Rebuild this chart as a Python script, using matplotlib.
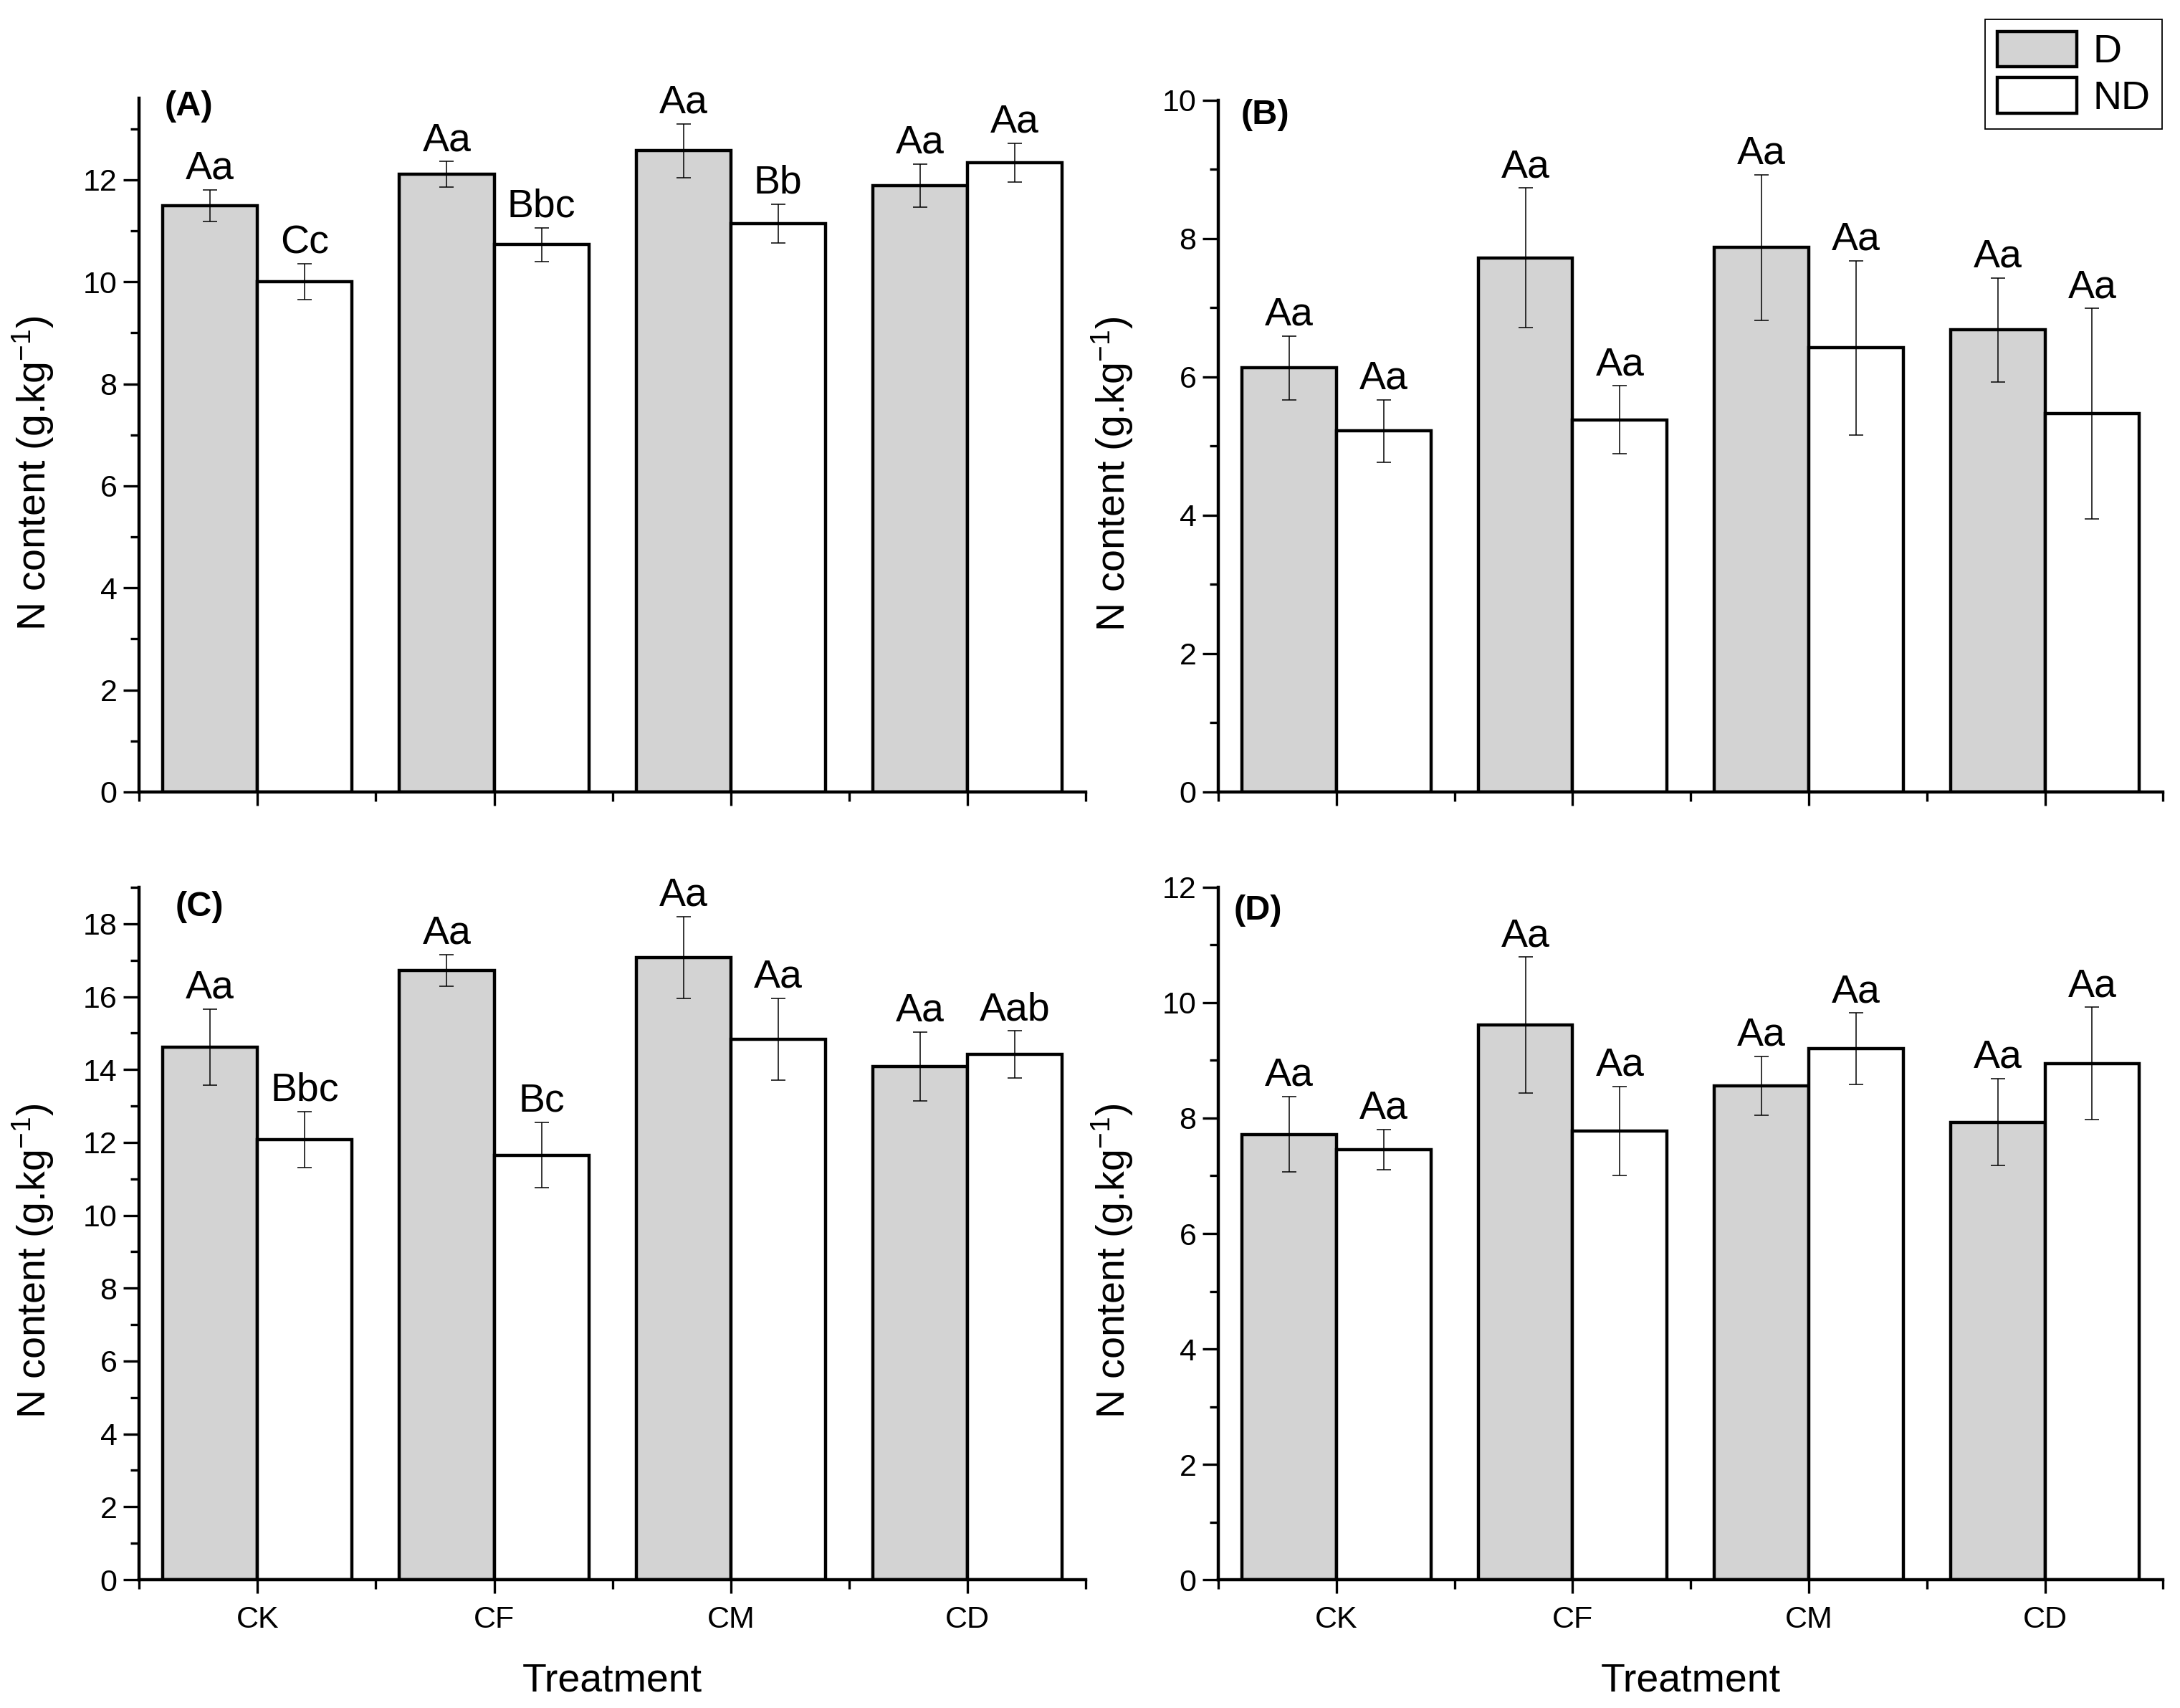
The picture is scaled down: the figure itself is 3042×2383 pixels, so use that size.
import numpy as np
from matplotlib import pyplot as plt

plt.rcParams['font.family'] = ['Liberation Sans', 'DejaVu Sans']
plt.rcParams['mathtext.fontset'] = 'custom'
plt.rcParams['mathtext.rm'] = 'Liberation Sans'
plt.rcParams['mathtext.it'] = 'Liberation Sans:italic'

'''
    DATA
'''
treatments = ['CK', 'CF', 'CM', 'CD']

# panel A
a_d = [11.49, 12.11, 12.57, 11.89]
a_d_err = [0.31, 0.25, 0.53, 0.42]
a_nd = [10.00, 10.73, 11.14, 12.34]
a_nd_err = [0.35, 0.33, 0.38, 0.38]
a_d_lab = ['Aa', 'Aa', 'Aa', 'Aa']
a_nd_lab = ['Cc', 'Bbc', 'Bb', 'Aa']

# panel B
b_d = [6.13, 7.72, 7.87, 6.68]
b_d_err = [0.46, 1.01, 1.05, 0.75]
b_nd = [5.22, 5.38, 6.42, 5.47]
b_nd_err = [0.45, 0.49, 1.26, 1.52]
b_d_lab = ['Aa', 'Aa', 'Aa', 'Aa']
b_nd_lab = ['Aa', 'Aa', 'Aa', 'Aa']

# panel C
c_d = [14.62, 16.72, 17.08, 14.08]
c_d_err = [1.04, 0.44, 1.12, 0.95]
c_nd = [12.08, 11.65, 14.83, 14.41]
c_nd_err = [0.77, 0.90, 1.13, 0.65]
c_d_lab = ['Aa', 'Aa', 'Aa', 'Aa']
c_nd_lab = ['Bbc', 'Bc', 'Aa', 'Aab']

# panel D
d_d = [7.72, 9.61, 8.56, 7.93]
d_d_err = [0.65, 1.18, 0.51, 0.75]
d_nd = [7.45, 7.78, 9.20, 8.95]
d_nd_err = [0.35, 0.77, 0.62, 0.97]
d_d_lab = ['Aa', 'Aa', 'Aa', 'Aa']
d_nd_lab = ['Aa', 'Aa', 'Aa', 'Aa']


fig = plt.figure(figsize=(30.42, 23.83), dpi=100)

LW = 3.2      # outline width of bars and axes
GREY = '#d3d3d3'


def panel(rect, d, d_err, nd, nd_err, d_lab, nd_lab, ymax, tag, tag_xy, bottom_row):
    ax = fig.add_axes(rect)
    xs = np.arange(1, len(treatments) + 1)
    w = 0.4
    bd = ax.bar(xs - w / 2, d, w, color=GREY, edgecolor='black', linewidth=LW, zorder=2, label='D')
    bn = ax.bar(xs + w / 2, nd, w, color='white', edgecolor='black', linewidth=LW, zorder=2, label='ND')
    ax.errorbar(xs - w / 2, d, yerr=d_err, fmt='none', ecolor='black', elinewidth=1.1,
                capsize=7.5, capthick=1.1, zorder=3)
    ax.errorbar(xs + w / 2, nd, yerr=nd_err, fmt='none', ecolor='black', elinewidth=1.1,
                capsize=7.5, capthick=1.1, zorder=3)

    # letters over each bar
    for x, v, e, t in zip(xs - w / 2, d, d_err, d_lab):
        ax.annotate(t, xy=(x, v + e), xytext=(0, 11), textcoords='offset points',
                    ha='center', va='baseline', fontsize=40)
    for x, v, e, t in zip(xs + w / 2, nd, nd_err, nd_lab):
        ax.annotate(t, xy=(x, v + e), xytext=(0, 11), textcoords='offset points',
                    ha='center', va='baseline', fontsize=40)

    ax.set_xlim(0.5, 4.5)
    ax.set_ylim(0, ymax)
    ax.set_xticks(xs)
    ax.set_xticks(np.arange(0.5, 4.6, 1.0), minor=True)
    ax.set_yticks(np.arange(0, ymax + 0.01, 2))
    ax.set_yticks(np.arange(1, ymax + 0.01, 2), minor=True)

    for s in ['top', 'right']:
        ax.spines[s].set_visible(False)
    for s in ['left', 'bottom']:
        ax.spines[s].set_linewidth(LW)

    ax.tick_params(axis='y', which='major', direction='out', length=16, width=2.4, labelsize=31, pad=6)
    ax.tick_params(axis='y', which='minor', direction='out', length=9, width=2.4)
    ax.tick_params(axis='x', which='major', direction='out', length=14, width=2.4, labelsize=31, pad=12)
    ax.tick_params(axis='x', which='minor', direction='out', length=9, width=2.4)

    if bottom_row:
        ax.set_xticklabels(treatments)
        ax.set_xlabel('Treatment', fontsize=40, labelpad=28)
    else:
        ax.set_xticklabels([])

    ax.set_ylabel('N content (g.kg$^{\\mathrm{-1}}$)', fontsize=40)
    ax.yaxis.set_label_coords(-0.088, 0.46)

    ax.text(tag_xy[0], tag_xy[1], tag, transform=ax.transAxes, fontsize=35,
            fontweight='bold', ha='left', va='center')
    return bd, bn


bd, bn = panel([0.0638, 0.5363, 0.4343, 0.4062], a_d, a_d_err, a_nd, a_nd_err,
               a_d_lab, a_nd_lab, 13.6, '(A)', (0.027, 0.988), False)
panel([0.5589, 0.5363, 0.4333, 0.4050], b_d, b_d_err, b_nd, b_nd_err,
      b_d_lab, b_nd_lab, 10, '(B)', (0.024, 0.979), False)
panel([0.0638, 0.0751, 0.4343, 0.4054], c_d, c_d_err, c_nd, c_nd_err,
      c_d_lab, c_nd_lab, 19, '(C)', (0.038, 0.972), True)
panel([0.5589, 0.0751, 0.4333, 0.4054], d_d, d_d_err, d_nd, d_nd_err,
      d_d_lab, d_nd_lab, 12, '(D)', (0.016, 0.966), True)

leg = fig.legend(handles=[bd, bn], labels=['D', 'ND'], loc='upper right',
                 bbox_to_anchor=(0.9918, 0.9887), fontsize=40, frameon=True,
                 fancybox=False, edgecolor='black', framealpha=1,
                 handlelength=2.0, handleheight=1.0, borderpad=0.3,
                 labelspacing=0.15, handletextpad=0.4, borderaxespad=0)
leg.get_frame().set_linewidth(1.3)

fig.savefig('out.png', dpi=100)
